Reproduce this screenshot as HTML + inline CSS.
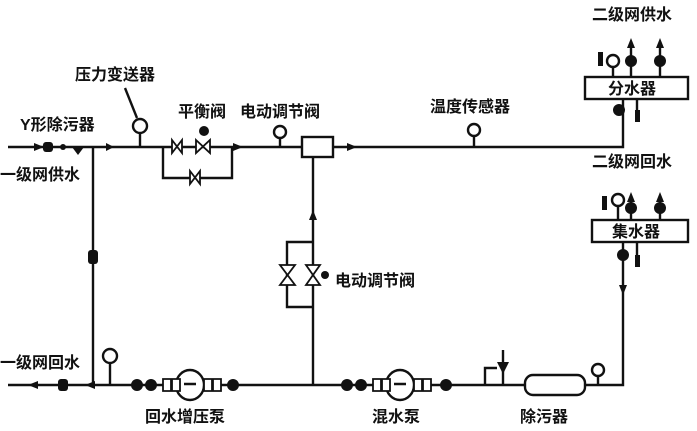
<!DOCTYPE html>
<html><head><meta charset="utf-8"><style>
html,body{margin:0;padding:0;background:#fff;}
svg{display:block}
text{font-family:"Liberation Sans","Noto Sans CJK SC",sans-serif;font-weight:bold;fill:#111;font-size:16px}
</style></head><body>
<svg width="697" height="431" viewBox="0 0 697 431" xmlns="http://www.w3.org/2000/svg">
<g stroke="#111" stroke-width="2.4" fill="none">
<path d="M8 147 H623 V100"/>
<path d="M93 147 V385"/>
<path d="M8 385 H623 V243"/>
<path d="M313 157 V385"/>
<path d="M163 147 V178 H232 V147"/>
<path d="M313 242 H287 V307 H313"/>
<rect x="302" y="137" width="31" height="20" fill="#fff"/>
<rect x="585" y="77" width="103" height="22" fill="#fff"/>
<rect x="592" y="220" width="96" height="22" fill="#fff"/>
<rect x="525" y="375" width="60" height="20" rx="8" fill="#fff"/>
<ellipse cx="190" cy="385" rx="14" ry="15" fill="#fff"/>
<ellipse cx="400" cy="385" rx="14" ry="15" fill="#fff"/>
<circle cx="140" cy="126" r="7"/><path d="M140 133 V147"/>
<path d="M125 88 L137 118"/>
<circle cx="280" cy="132" r="6"/><path d="M280 138 V147"/>
<circle cx="474" cy="130" r="6"/><path d="M474 136 V147"/>
<circle cx="110" cy="356" r="7"/><path d="M110 363 V385"/>
<circle cx="598" cy="370" r="6"/><path d="M598 376 V385"/>
<path d="M613 77 V67"/><circle cx="613" cy="61" r="6"/>
<path d="M631 77 V48"/><path d="M660 77 V48"/>
<path d="M631 220 V202"/><path d="M660 220 V202"/>
<path d="M618 220 V205"/><circle cx="618" cy="200" r="6"/>
<path d="M637 99 V118"/><path d="M637 242 V262"/>
<path d="M485 385 V368 H497"/><path d="M503 385 V350"/>
<path d="M163 379 h8 v12 h-8z M172 379 h8 v12 h-8z M204 379 h8 v12 h-8z M213 379 h8 v12 h-8z M373 379 h8 v12 h-8z M382 379 h8 v12 h-8z M414 379 h8 v12 h-8z M423 379 h8 v12 h-8z" fill="#fff" stroke-width="1.8"/>
<path d="M184 384 H196 M394 384 H406"/>
</g>
<g fill="#111">
<path d="M172 140 L182 153 V140 L172 153Z M196 140 L210 153 V140 L196 153Z M190 171 L200 184 V171 L190 184Z M280 265 L295 265 L280 285 L295 285Z M306 265 L320 265 L306 285 L320 285Z" stroke="#111" stroke-width="1.8" fill="#fff"/>
<circle cx="204" cy="131" r="5"/>
<circle cx="325" cy="275" r="4"/>
<rect x="43" y="142" width="10" height="10" rx="3"/>
<circle cx="63" cy="147" r="3"/>
<path d="M72 147 L84 147 L78 155Z"/>
<rect x="88" y="250" width="10" height="14" rx="3"/>
<rect x="58" y="379" width="10" height="12" rx="3"/>
<path d="M34 143 L44 147 L34 151Z M106 143 L114 147 L106 151Z M233 143 L243 147 L233 151Z M347 143 L357 147 L347 151Z"/>
<path d="M309 220 L313 210 L317 220Z M619 285 L623 295 L627 285Z"/>
<path d="M38 381 L28 385 L38 389Z M95 381 L85 385 L95 389Z"/>
<path d="M627 48 L631 38 L635 48Z M656 48 L660 38 L664 48Z M627 202 L631 192 L635 202Z M656 202 L660 192 L664 202Z"/>
<circle cx="631" cy="61" r="6"/><circle cx="660" cy="61" r="6"/>
<circle cx="631" cy="208" r="6"/><circle cx="660" cy="208" r="6"/>
<circle cx="619" cy="110" r="6"/><circle cx="623" cy="255" r="6"/>
<rect x="598" y="52" width="5" height="14"/><rect x="602" y="196" width="5" height="14"/>
<rect x="635" y="110" width="5" height="12"/><rect x="635" y="255" width="5" height="12"/>
<circle cx="137" cy="385" r="6"/><circle cx="151" cy="385" r="6"/><circle cx="233" cy="385" r="6"/>
<circle cx="347" cy="385" r="6"/><circle cx="361" cy="385" r="6"/><circle cx="446" cy="385" r="6"/>
<path d="M497 362 L509 362 L503 374Z"/>
</g>
<text x="75" y="80" font-size="17">压力变送器</text>
<text x="20" y="130">Y形除污器</text>
<text x="178" y="117">平衡阀</text>
<text x="240" y="117">电动调节阀</text>
<text x="430" y="112">温度传感器</text>
<text x="0" y="180">一级网供水</text>
<text x="592" y="20">二级网供水</text>
<text x="608" y="94">分水器</text>
<text x="592" y="167">二级网回水</text>
<text x="612" y="237">集水器</text>
<text x="335" y="286">电动调节阀</text>
<text x="0" y="368">一级网回水</text>
<text x="145" y="422">回水增压泵</text>
<text x="372" y="422">混水泵</text>
<text x="520" y="422">除污器</text>
</svg>
</body></html>
